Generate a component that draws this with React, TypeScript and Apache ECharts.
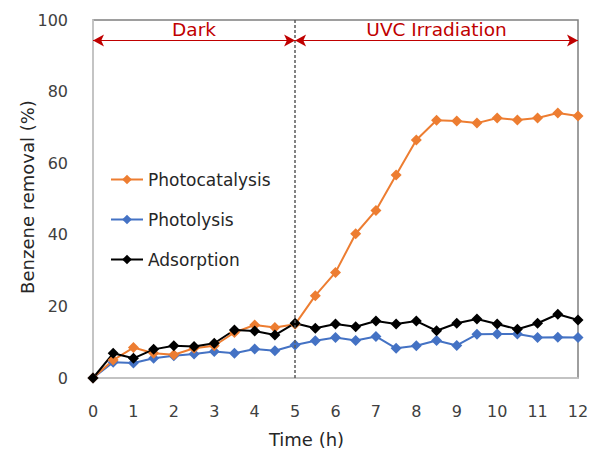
import React, { useEffect, useRef } from "react";
import * as echarts from "echarts";

// Sampling times (h)
const hours = [0, 0.5, 1, 1.5, 2, 2.5, 3, 3.5, 4, 4.5, 5, 5.5, 6, 6.5, 7, 7.5, 8, 8.5, 9, 9.5, 10, 10.5, 11, 11.5, 12];

// Benzene removal (%) for each process
const photocatalysis = [0, 5.0, 8.5, 6.9, 6.5, 8.3, 9.0, 12.7, 14.8, 14.1, 15.0, 23.0, 29.5, 40.3, 46.8, 56.7, 66.5, 72.0, 71.8, 71.2, 72.6, 72.1, 72.6, 74.0, 73.2];
const photolysis = [0, 4.4, 4.2, 5.5, 6.2, 6.7, 7.4, 6.9, 8.1, 7.6, 9.2, 10.4, 11.3, 10.5, 11.6, 8.3, 9.0, 10.5, 9.1, 12.2, 12.3, 12.3, 11.3, 11.4, 11.3];
const adsorption = [0, 6.9, 5.5, 8.0, 9.0, 8.8, 9.7, 13.4, 13.1, 12.0, 15.3, 13.9, 15.1, 14.3, 15.9, 15.1, 15.9, 13.2, 15.3, 16.5, 15.1, 13.6, 15.3, 17.8, 16.2];

const seriesNames = ["Photocatalysis", "Photolysis", "Adsorption"];

// Experiment phases: [label, start h, end h]
const phases: [string, number, number][] = [
  ["Dark", 0, 5],
  ["UVC Irradiation", 5, 12],
];
const lampOnHour = 5;
const phaseArrowLevel = 94.3;

const FONT = "'DejaVu Sans', 'Noto Sans', sans-serif";
const RED = "#c00000";

export default function App() {
  const ref = useRef<HTMLDivElement>(null);

  useEffect(() => {
    if (!ref.current) return;
    const chart = echarts.init(ref.current, null, { renderer: "svg" });

    const pairs = (vals: number[]) => hours.map((h, i) => [h, vals[i]]);

    const lineSeries = (name: string, vals: number[], color: string, extra: any = {}) => ({
      name,
      type: "line",
      data: pairs(vals),
      symbol: "diamond",
      symbolSize: 11,
      lineStyle: { color, width: 2 },
      itemStyle: { color },
      ...extra,
    });

    chart.setOption({
      animation: false,
      backgroundColor: "#ffffff",
      textStyle: { fontFamily: FONT },
      grid: {
        left: 93,
        right: 19,
        top: 20,
        bottom: 73,
        show: true,
        borderColor: "#7f7f7f",
        borderWidth: 1.5,
      },
      legend: {
        data: seriesNames,
        orient: "vertical",
        left: 105,
        top: 166,
        itemWidth: 32,
        itemHeight: 12,
        itemGap: 23,
        textStyle: { fontSize: 17, color: "#262626", fontFamily: FONT },
      },
      xAxis: {
        type: "value",
        min: 0,
        max: 12,
        interval: 1,
        name: "Time (h)",
        nameLocation: "middle",
        nameGap: 52,
        nameMoveOverlap: false,
        nameTextStyle: { fontSize: 18, color: "#262626", fontFamily: FONT, padding: [0, 58, 0, 0] },
        axisLine: { show: true, lineStyle: { color: "#d0d0d0", width: 1.5 } },
        axisTick: { show: false },
        splitLine: { show: false },
        axisLabel: { fontSize: 16, color: "#404040", margin: 25 },
      },
      yAxis: {
        type: "value",
        min: 0,
        max: 100,
        interval: 20,
        name: "Benzene removal (%)",
        nameLocation: "middle",
        nameGap: 57,
        nameMoveOverlap: false,
        nameTextStyle: { fontSize: 18, color: "#262626", fontFamily: FONT, padding: [0, 0, 0, 4] },
        axisLine: { show: true, lineStyle: { color: "#d0d0d0", width: 1.5 } },
        axisTick: { show: false },
        splitLine: { show: false },
        axisLabel: { fontSize: 16, color: "#404040", margin: 25 },
      },
      series: [
        lineSeries("Photolysis", photolysis, "#4472c4", {
          markLine: {
            silent: true,
            symbol: ["none", "none"],
            label: { show: false },
            lineStyle: { color: "#595959", width: 1.5, type: [3, 2] },
            data: [{ xAxis: lampOnHour }],
          },
        }),
        lineSeries("Photocatalysis", photocatalysis, "#ed7d31", {
          markLine: {
            silent: true,
            symbol: ["arrow", "arrow"],
            symbolSize: [9, 11],
            lineStyle: { color: RED, width: 1, type: "solid" },
            label: {
              show: true,
              position: "middle",
              distance: 1,
              color: RED,
              fontSize: 18.5,
              fontFamily: FONT,
            },
            data: phases.map(([label, a, b]) => [
              { coord: [a, phaseArrowLevel], name: label },
              { coord: [b, phaseArrowLevel] },
            ]),
          },
        }),
        lineSeries("Adsorption", adsorption, "#000000"),
      ],
    });

    return () => chart.dispose();
  }, []);

  return (
    <div
      ref={ref}
      style={{ position: "fixed", left: 0, top: 0, width: 597, height: 453, background: "#fff" }}
    />
  );
}
